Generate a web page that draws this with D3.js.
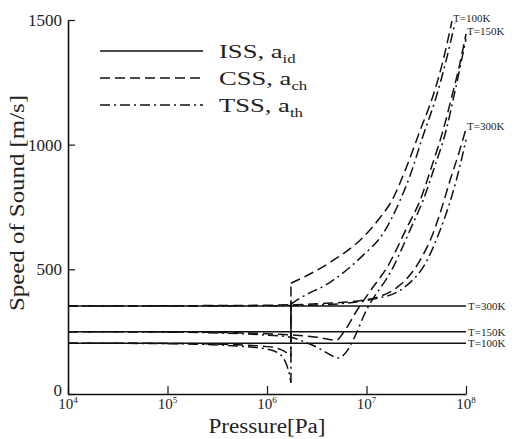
<!DOCTYPE html>
<html>
<head>
<meta charset="utf-8">
<script src="https://cdn.jsdelivr.net/npm/d3@7"></script>
<style>
  body { margin: 0; background: #fff; }
  svg { display: block; }
  text { font-family: "Times New Roman", Times, "Liberation Serif", serif; fill: #222; }
</style>
</head>
<body>
<svg id="chart"></svg>
<script>
// pressure [Pa] vs speed of sound [m/s], nitrogen at three temperatures
const xMajor = [1e4, 1e5, 1e6, 1e7, 1e8];
const xExp = ["4", "5", "6", "7", "8"];
const yMajor = [0, 500, 1000, 1500];

// ideal speed of sound (flat)
const issT100 = [[1e4, 204], [1e8, 204]];
const issT150 = [[1e4, 250], [1e8, 250]];
const issT300 = [[1e4, 353], [1e8, 353]];
const issJump = [[1.74e6, 376], [1.74e6, 205]];

// real-gas speed of sound
const cssT100 = [[1e4, 204], [1e5, 203], [3.16e5, 200], [1e6, 190], [1.38e6, 178], [1.58e6, 165], [1.74e6, 150],
  [1.74e6, 444], [4.3e6, 528], [9.2e6, 628], [1.37e7, 708], [1.8e7, 776], [2.44e7, 896], [3.45e7, 1056],
  [4.66e7, 1196], [5.87e7, 1336], [7.23e7, 1496]];
const cssT150 = [[1e4, 250], [1e5, 249], [3.16e5, 247], [1e6, 242], [1.74e6, 237], [3.16e6, 228], [5.0e6, 216],
  [5.8e6, 244], [8.04e6, 336], [1.16e7, 428], [1.61e7, 508], [2.55e7, 668], [3.45e7, 776], [4.55e7, 916],
  [5.87e7, 1056], [7.23e7, 1196], [8.51e7, 1310], [1e8, 1444]];
const cssT300 = [[1e4, 353], [1e5, 354], [1e6, 356], [3.16e6, 362], [9.2e6, 376], [2.03e7, 428], [3.45e7, 536],
  [4.66e7, 644], [5.48e7, 724], [6.9e7, 856], [8.32e7, 956], [1e8, 1064]];

// thermodynamic speed of sound
const tssT100 = [[1e4, 204], [1e5, 202], [3.16e5, 197], [1e6, 180], [1.38e6, 156], [1.58e6, 115], [1.68e6, 80], [1.74e6, 45],
  [1.74e6, 360], [2.14e6, 384], [4.3e6, 448], [9.2e6, 556], [1.47e7, 644], [2.17e7, 776], [2.74e7, 876],
  [3.7e7, 1036], [4.99e7, 1188], [6.3e7, 1336], [7.74e7, 1488]];
const tssT150 = [[1e4, 250], [1e5, 248], [3.16e5, 245], [1e6, 236], [1.74e6, 228], [2.14e6, 216], [3.16e6, 188],
  [4.68e6, 150], [5.13e6, 144], [6.46e6, 176], [7.59e6, 228], [9.55e6, 320], [1.85e7, 508], [2.93e7, 684],
  [3.7e7, 776], [4.88e7, 916], [6.3e7, 1056], [7.57e7, 1196], [1e8, 1424]];
const tssT300 = [[1e4, 353], [1e5, 353], [1e6, 354], [3.16e6, 357], [1.28e7, 384], [2.33e7, 424], [4.06e7, 536],
  [5.48e7, 656], [7.23e7, 796], [8.71e7, 916], [1e8, 1020]];

const legendNames = ["ISS, a", "CSS, a", "TSS, a"];
const legendSubs = ["id", "ch", "th"];
const topLabels = ["T=100K", "T=150K", "T=300K"];

const W = 514, H = 439;
const margin = {top: 20, right: 48, bottom: 45, left: 68};

const svg = d3.select("#chart").attr("width", W).attr("height", H);

const xs = d3.scaleLog().domain([1e4, 1e8]).range([margin.left, W - margin.right]);
const ys = d3.scaleLinear().domain([0, 1500]).range([H - margin.bottom, margin.top]);

const styles = {
  solid: null,
  dash: "10,5",
  dashdot: "10,4,2,4"
};

// minor ticks
let xMinor = [];
xMajor.slice(0, -1).forEach(d => { for (let k = 2; k <= 9; k++) xMinor.push(d * k); });
const yMinor = d3.range(0, 1501, 100).filter(v => v % 500 !== 0);

const gx = svg.append("g").attr("transform", `translate(0,${ys(0)})`);
gx.call(d3.axisBottom(xs).tickValues(xMinor).tickSizeInner(-4).tickSizeOuter(0).tickFormat(""));
gx.call(d3.axisBottom(xs).tickValues(xMajor).tickSizeInner(-8).tickSizeOuter(0).tickFormat(""));

const gy = svg.append("g").attr("transform", `translate(${xs(1e4)},0)`);
gy.call(d3.axisLeft(ys).tickValues(yMinor).tickSizeInner(-4).tickSizeOuter(0).tickFormat(""));
gy.call(d3.axisLeft(ys).tickValues(yMajor).tickSizeInner(-7).tickSizeOuter(0).tickPadding(6).tickFormat(d3.format("d")));

svg.selectAll(".domain").attr("stroke", "#111").attr("stroke-width", 1.6);
svg.selectAll(".tick line").attr("stroke", "#111").attr("stroke-width", 1.2);
gy.selectAll(".tick text")
  .style("font-size", "17px").attr("fill", "#222");
gy.selectAll(".tick text").filter(d => d === 0).attr("dy", "0.1em");

// x tick labels with exponents
const xl = svg.append("g").selectAll("text").data(xMajor).join("text")
  .attr("x", d => xs(d))
  .attr("y", ys(0) + 15)
  .attr("text-anchor", "middle")
  .style("font-size", "15px");
xl.append("tspan").text("10");
xl.append("tspan").text((d, i) => xExp[i]).attr("dy", -6).style("font-size", "9px");

// axis titles
svg.append("text")
  .attr("x", (xs(1e4) + xs(1e8)) / 2)
  .attr("y", H - 6)
  .attr("text-anchor", "middle")
  .attr("textLength", 117).attr("lengthAdjust", "spacingAndGlyphs")
  .style("font-size", "20px")
  .text("Pressure[Pa]");

svg.append("text")
  .attr("transform", `translate(24,203) rotate(-90)`)
  .attr("text-anchor", "middle")
  .attr("textLength", 216).attr("lengthAdjust", "spacingAndGlyphs")
  .style("font-size", "20px")
  .text("Speed of Sound [m/s]");

// curves
const line = d3.line().x(d => xs(d[0])).y(d => ys(d[1])).curve(d3.curveMonotoneX);
const straight = d3.line().x(d => xs(d[0])).y(d => ys(d[1]));

function drawSeries(pts, dash) {
  // split at vertical jumps (same pressure twice)
  let segs = [[pts[0]]];
  let jumps = [];
  for (let i = 1; i < pts.length; i++) {
    if (pts[i][0] === pts[i - 1][0]) {
      jumps.push([pts[i - 1], pts[i]]);
      segs.push([pts[i]]);
    } else {
      segs[segs.length - 1].push(pts[i]);
    }
  }
  segs.forEach(s => {
    svg.append("path").attr("d", line(s))
      .attr("fill", "none").attr("stroke", "#111").attr("stroke-width", 1.5)
      .attr("stroke-dasharray", dash);
  });
  jumps.forEach(j => {
    svg.append("path").attr("d", straight(j))
      .attr("fill", "none").attr("stroke", "#111").attr("stroke-width", 1.5)
      .attr("stroke-dasharray", dash);
  });
}

[issT100, issT150, issT300, issJump].forEach(s => drawSeries(s, styles.solid));
[cssT100, cssT150, cssT300].forEach(s => drawSeries(s, styles.dash));
[tssT100, tssT150, tssT300].forEach(s => drawSeries(s, styles.dashdot));

// temperature labels at curve ends
const topEnds = [cssT100, cssT150, cssT300].map(s => s[s.length - 1]);
svg.append("g").selectAll("text").data(topEnds).join("text")
  .attr("x", d => xs(d[0]) + 1)
  .attr("y", d => ys(d[1]) + 1)
  .style("font-size", "11px")
  .text((d, i) => topLabels[i]);

const rightEnds = [issT300, issT150, issT100].map(s => s[s.length - 1]);
svg.append("g").selectAll("text").data(rightEnds).join("text")
  .attr("x", d => xs(d[0]) + 2)
  .attr("y", d => ys(d[1]) + 4)
  .style("font-size", "11px")
  .text((d, i) => topLabels[2 - i]);

// legend
const lg = svg.append("g").attr("transform", "translate(100,51)");
const dashes = [styles.solid, styles.dash, styles.dashdot];
legendNames.forEach((n, i) => {
  const row = lg.append("g").attr("transform", `translate(0,${i * 27})`);
  row.append("line").attr("x1", 0).attr("x2", 103)
    .attr("stroke", "#111").attr("stroke-width", 1.5).attr("stroke-dasharray", dashes[i]);
  const t = row.append("text").attr("transform", "translate(119,7) scale(1.4,1)").style("font-size", "19px");
  t.append("tspan").text(n);
  t.append("tspan").text(legendSubs[i]).attr("dy", 5).style("font-size", "12px");
});
</script>
</body>
</html>
